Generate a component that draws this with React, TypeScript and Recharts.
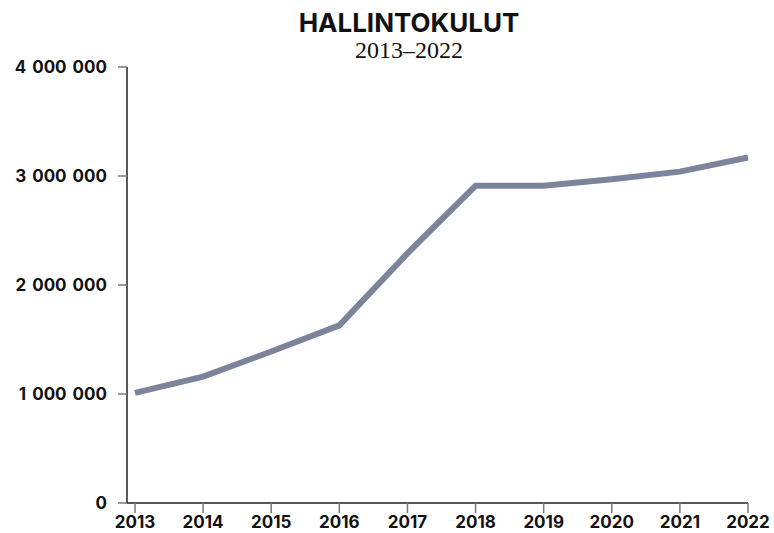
import { Line, LineChart, XAxis, YAxis } from 'recharts';

const years = [2013, 2014, 2015, 2016, 2017, 2018, 2019, 2020, 2021, 2022];
const costs = [
    1010000, 1160000, 1390000, 1630000, 2290000, 2910000, 2910000, 2970000,
    3040000, 3170000,
];
const yTicks = [0, 1000000, 2000000, 3000000, 4000000];

const data = years.map((year, i) => ({ year, cost: costs[i] }));

const formatMillions = (value: number) =>
    value.toLocaleString('en-US').replace(/,/g, ' ');

const tickStyle = {
    fontFamily: 'Inter',
    fontSize: 17,
    fontWeight: 700,
    fill: '#111',
    wordSpacing: 2,
};

export default function App() {
    return (
        <div
            style={{
                position: 'absolute',
                left: 0,
                top: 0,
                width: 774,
                height: 533,
                background: '#fff',
            }}
        >
            <div
                style={{
                    position: 'absolute',
                    left: 209,
                    width: 400,
                    top: 8,
                    textAlign: 'center',
                    fontFamily: 'Inter',
                    fontWeight: 700,
                    fontSize: 26,
                    lineHeight: '30px',
                    color: '#111',
                }}
            >
                HALLINTOKULUT
            </div>
            <div
                style={{
                    position: 'absolute',
                    left: 209,
                    width: 400,
                    top: 36,
                    textAlign: 'center',
                    fontFamily: '"Liberation Serif", serif',
                    fontSize: 24,
                    lineHeight: '28px',
                    color: '#111',
                }}
            >
                2013–2022
            </div>
            <LineChart
                width={774}
                height={533}
                data={data}
                margin={{ top: 67, right: 26, left: 0, bottom: 0 }}
            >
                <XAxis
                    dataKey="year"
                    type="number"
                    domain={[2013, 2022]}
                    ticks={years}
                    padding={{ left: 8, right: 0 }}
                    height={30}
                    tickSize={10}
                    tickMargin={3}
                    tick={tickStyle}
                    axisLine={{ stroke: '#222', strokeWidth: 1.5 }}
                    tickLine={{ stroke: '#777', strokeWidth: 1.5 }}
                    interval={0}
                />
                <YAxis
                    type="number"
                    domain={[0, 4000000]}
                    ticks={yTicks}
                    width={127}
                    tickSize={9}
                    tickMargin={11}
                    tick={tickStyle}
                    tickFormatter={formatMillions}
                    axisLine={{ stroke: '#222', strokeWidth: 1.5 }}
                    tickLine={{ stroke: '#777', strokeWidth: 1.5 }}
                    interval={0}
                />
                <Line
                    type="linear"
                    dataKey="cost"
                    stroke="#7b849a"
                    strokeWidth={6}
                    dot={false}
                    isAnimationActive={false}
                />
            </LineChart>
        </div>
    );
}
